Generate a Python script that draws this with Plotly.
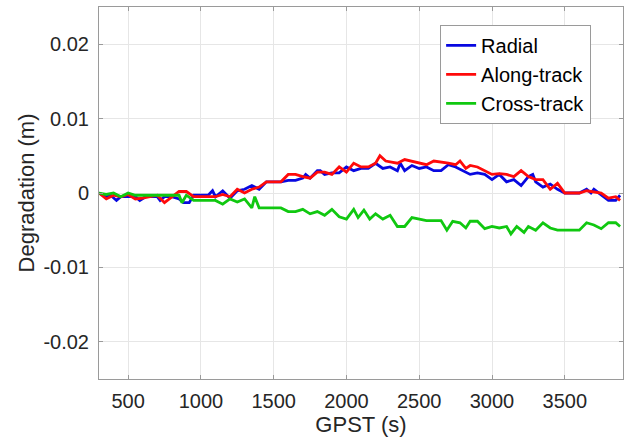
import plotly.graph_objects as go

radial_x = [300, 350, 380, 420, 450, 500, 550, 580, 620, 650, 700, 720, 750, 800, 850, 880, 920, 950, 1000, 1050, 1080, 1100, 1150, 1200, 1250, 1300, 1350, 1400, 1450, 1500, 1550, 1600, 1650, 1700, 1720, 1750, 1800, 1820, 1850, 1900, 1950, 2000, 2050, 2100, 2150, 2200, 2250, 2300, 2350, 2370, 2400, 2450, 2500, 2550, 2600, 2650, 2700, 2750, 2800, 2850, 2900, 2950, 3000, 3050, 3100, 3150, 3200, 3250, 3280, 3300, 3350, 3400, 3450, 3500, 3550, 3600, 3650, 3680, 3700, 3750, 3800, 3850, 3880]
radial_y = [0, -0.0005, -0.0003, -0.0010, -0.0005, -0.0005, -0.0005, -0.0010, -0.0005, -0.0005, -0.0005, -0.0010, -0.0005, -0.0005, -0.0008, -0.0013, -0.0013, -0.0003, -0.0003, -0.0003, 0.0003, -0.0005, 0.0003, -0.0007, 0.0003, 0.0005, 0.0010, 0.0005, 0.0015, 0.0015, 0.0015, 0.0017, 0.0017, 0.0020, 0.0025, 0.0020, 0.0030, 0.0030, 0.0025, 0.0027, 0.0027, 0.0035, 0.0030, 0.0033, 0.0033, 0.0040, 0.0033, 0.0035, 0.0030, 0.0040, 0.0030, 0.0037, 0.0033, 0.0035, 0.0030, 0.0030, 0.0038, 0.0035, 0.0030, 0.0025, 0.0027, 0.0025, 0.0018, 0.0025, 0.0015, 0.0018, 0.0010, 0.0022, 0.0025, 0.0015, 0.0008, 0.0012, 0.0005, 0.0000, 0.0000, 0.0000, 0.0005, 0.0000, 0.0005, -0.0002, -0.0010, -0.0010, -0.0003]

along_x = [300, 350, 400, 450, 500, 550, 600, 650, 700, 750, 800, 850, 900, 950, 1000, 1050, 1100, 1150, 1200, 1250, 1300, 1350, 1400, 1450, 1500, 1550, 1600, 1650, 1700, 1750, 1800, 1850, 1900, 1950, 2000, 2050, 2100, 2150, 2200, 2230, 2270, 2300, 2350, 2400, 2450, 2500, 2550, 2600, 2650, 2700, 2750, 2780, 2820, 2850, 2900, 2950, 3000, 3050, 3100, 3150, 3200, 3250, 3300, 3350, 3400, 3450, 3500, 3550, 3600, 3650, 3700, 3750, 3800, 3850, 3880]
along_y = [0, -0.0008, -0.0003, -0.0005, -0.0002, -0.0008, -0.0007, -0.0005, -0.0003, -0.0013, -0.0005, 0.0002, 0.0002, -0.0005, -0.0005, -0.0005, -0.0005, -0.0002, -0.0005, 0.0005, 0.0000, 0.0005, 0.0008, 0.0015, 0.0015, 0.0015, 0.0025, 0.0025, 0.0022, 0.0020, 0.0028, 0.0028, 0.0025, 0.0035, 0.0028, 0.0040, 0.0035, 0.0035, 0.0040, 0.0050, 0.0043, 0.0042, 0.0040, 0.0045, 0.0043, 0.0040, 0.0038, 0.0043, 0.0042, 0.0040, 0.0038, 0.0043, 0.0033, 0.0037, 0.0035, 0.0030, 0.0025, 0.0026, 0.0025, 0.0022, 0.0030, 0.0022, 0.0018, 0.0018, 0.0005, 0.0013, 0.0000, 0.0000, 0.0000, 0.0003, 0.0002, 0.0000, -0.0007, -0.0005, -0.0010]

cross_x = [300, 350, 400, 450, 500, 550, 600, 700, 800, 850, 870, 900, 950, 1000, 1050, 1100, 1150, 1200, 1250, 1300, 1350, 1370, 1400, 1450, 1500, 1550, 1600, 1650, 1700, 1750, 1800, 1850, 1900, 1950, 2000, 2050, 2080, 2120, 2160, 2200, 2250, 2300, 2350, 2400, 2450, 2500, 2550, 2600, 2650, 2690, 2730, 2780, 2820, 2850, 2900, 2950, 3000, 3050, 3100, 3130, 3170, 3220, 3250, 3300, 3350, 3400, 3450, 3500, 3550, 3600, 3650, 3700, 3750, 3800, 3850, 3880]
cross_y = [0, -0.0002, 0.0000, -0.0005, 0.0000, -0.0003, -0.0003, -0.0003, -0.0003, -0.0003, -0.0013, -0.0003, -0.0010, -0.0010, -0.0010, -0.0010, -0.0015, -0.0008, -0.0012, -0.0008, -0.0020, -0.0005, -0.0020, -0.0020, -0.0020, -0.0020, -0.0025, -0.0025, -0.0022, -0.0028, -0.0025, -0.0030, -0.0022, -0.0032, -0.0035, -0.0022, -0.0033, -0.0023, -0.0035, -0.0028, -0.0035, -0.0030, -0.0045, -0.0045, -0.0033, -0.0035, -0.0037, -0.0037, -0.0037, -0.0050, -0.0038, -0.0040, -0.0047, -0.0038, -0.0038, -0.0048, -0.0045, -0.0047, -0.0045, -0.0055, -0.0045, -0.0053, -0.0045, -0.0050, -0.0040, -0.0047, -0.0050, -0.0050, -0.0050, -0.0050, -0.0040, -0.0043, -0.0048, -0.0040, -0.0040, -0.0045]

x_ticks = [500, 1000, 1500, 2000, 2500, 3000, 3500]
y_ticks = [-0.02, -0.01, 0, 0.01, 0.02]
y_tick_labels = ["-0.02", "-0.01", "0", "0.01", "0.02"]

FONT = "Liberation Sans, Arial, sans-serif"
TXT = "#262626"

fig = go.Figure()
fig.add_trace(go.Scatter(x=radial_x, y=radial_y, mode="lines", name="Radial",
                         line=dict(color="#0808e0", width=2.8)))
fig.add_trace(go.Scatter(x=along_x, y=along_y, mode="lines", name="Along-track",
                         line=dict(color="#ff0a0a", width=2.8)))
fig.add_trace(go.Scatter(x=cross_x, y=cross_y, mode="lines", name="Cross-track",
                         line=dict(color="#10c810", width=2.8)))

axis_common = dict(showline=True, mirror="ticks", linecolor="#9a9a9a", linewidth=1,
                   showgrid=True, gridcolor="#e6e6e6", gridwidth=1, zeroline=False,
                   ticks="inside", ticklen=4, tickcolor="#9a9a9a",
                   tickfont=dict(family=FONT, size=20, color=TXT))

fig.update_layout(
    width=629, height=445,
    margin=dict(l=99, r=6, t=7, b=66),
    paper_bgcolor="white", plot_bgcolor="white",
    showlegend=True,
    legend=dict(x=0.651, y=0.952, xanchor="left", yanchor="top",
                bgcolor="white", bordercolor="#9a9a9a", borderwidth=1,
                font=dict(family=FONT, size=20, color="#000000"),
                tracegroupgap=0),
    xaxis=dict(range=[300, 3900], tickvals=x_ticks, ticklabelstandoff=4,
               title=dict(text="GPST (s)", font=dict(family=FONT, size=22, color=TXT), standoff=2),
               **axis_common),
    yaxis=dict(range=[-0.025, 0.025], tickvals=y_ticks, ticktext=y_tick_labels,
               ticklabelstandoff=5,
               title=dict(text="Degradation (m)", font=dict(family=FONT, size=22, color=TXT), standoff=2),
               **axis_common),
)

fig.write_html("out.html")
